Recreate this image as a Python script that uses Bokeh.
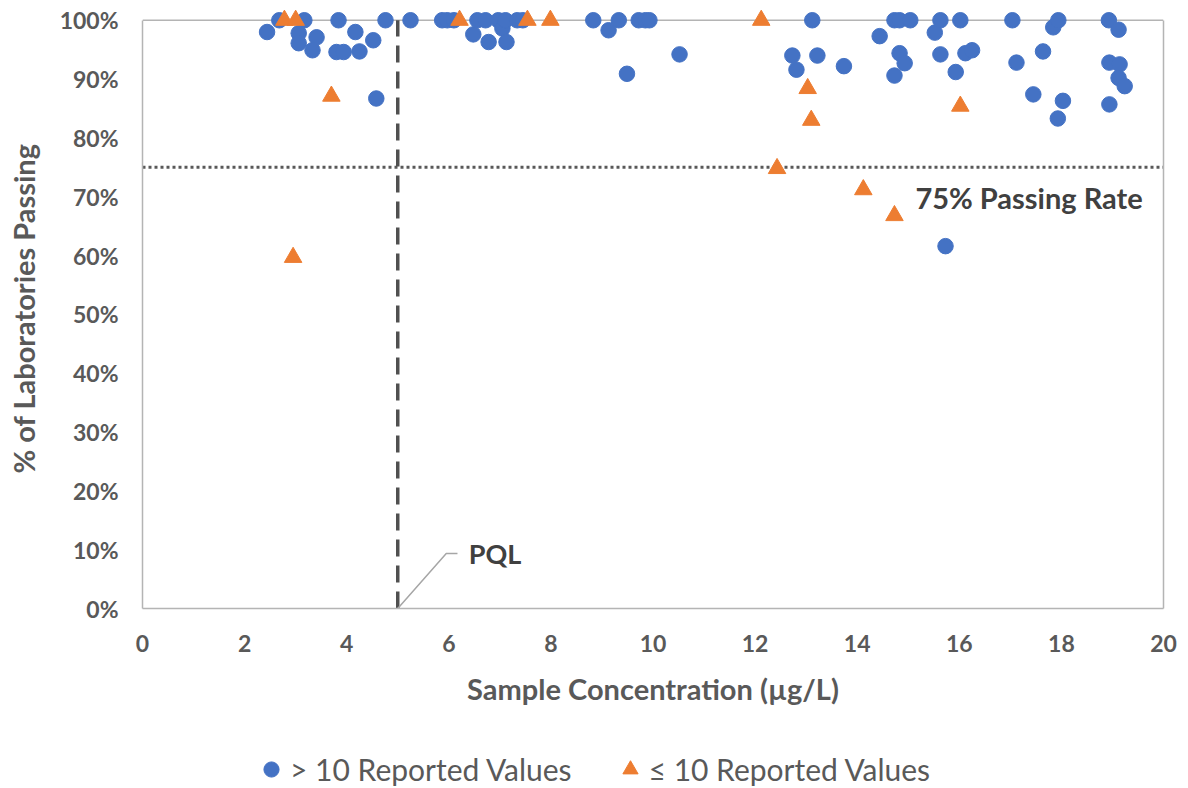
from bokeh.plotting import figure
from bokeh.layouts import column
from bokeh.models import (Range1d, LinearAxis, FixedTicker, PrintfTickFormatter,
                          Span, Label, Legend, LegendItem)
from bokeh.embed import file_html
from bokeh.resources import INLINE

FONT = "Lato"
AXIS_TEXT = "#595959"
NOTE_TEXT = "#404040"
FRAME_GRAY = "#b4b4b4"
BLUE = "#4472C4"
ORANGE = "#ED7D31"

# Samples with more than 10 reported values: concentration (µg/L), % labs passing
conc_many = [2.44, 2.68, 3.17, 3.06, 3.06, 3.41, 3.33, 3.84, 3.80, 3.94,
             4.17, 4.25, 4.52, 4.58, 4.76, 5.25, 5.87, 5.97, 6.10, 6.48,
             6.56, 6.72, 6.78, 6.97, 7.05, 7.11, 7.13, 7.34, 7.45, 8.83,
             9.13, 9.33, 9.49, 9.72, 9.85, 9.93, 10.52, 12.73, 12.81, 13.12,
             13.22, 13.74, 14.44, 14.73, 14.83, 15.04, 14.83, 14.93, 14.73, 15.52,
             15.63, 15.63, 15.73, 15.93, 16.02, 16.12, 16.25, 17.04, 17.12, 17.45,
             17.64, 17.84, 17.93, 17.94, 18.03, 18.93, 18.94, 18.94, 19.12, 19.14,
             19.12, 19.24]
pass_many = [98.0, 100, 100, 97.8, 96.1, 97.1, 94.9, 100, 94.6, 94.6,
             98.0, 94.7, 96.6, 86.7, 100, 100, 100, 100, 100, 97.6,
             100, 100, 96.3, 100, 98.6, 100, 96.3, 100, 100, 100,
             98.3, 100, 90.9, 100, 100, 100, 94.2, 94.0, 91.6, 100,
             94.0, 92.2, 97.3, 100, 100, 100, 94.4, 92.7, 90.6, 97.9,
             100, 94.2, 61.6, 91.2, 100, 94.4, 94.9, 100, 92.8, 87.4,
             94.7, 98.8, 83.3, 100, 86.3, 100, 92.8, 85.7, 98.4, 92.5,
             90.2, 88.8]

# Samples with 10 or fewer reported values
conc_few = [2.78, 3.00, 2.95, 3.70, 6.21, 7.54, 7.99, 12.12, 12.43, 13.03,
            13.10, 14.12, 14.73, 16.02]
pass_few = [100, 100, 59.7, 87.1, 100, 100, 100, 100, 74.8, 88.4,
            83.0, 71.2, 66.8, 85.4]

x_ticks = [0, 2, 4, 6, 8, 10, 12, 14, 16, 18, 20]
y_ticks = [0, 10, 20, 30, 40, 50, 60, 70, 80, 90, 100]
pql = 5
passing_rate = 75

p = figure(width=1188, height=740, output_backend="svg", toolbar_location=None,
           tools="", x_range=Range1d(0, 20), y_range=Range1d(0, 102),
           min_border_left=142, min_border_right=25, min_border_top=8,
           min_border_bottom=132)
p.outline_line_color = None
p.grid.visible = False

# axes
xa = p.xaxis[0]
xa.ticker = FixedTicker(ticks=x_ticks)
xa.axis_label = "Sample Concentration (µg/L)"
ya = p.yaxis[0]
ya.ticker = FixedTicker(ticks=y_ticks)
ya.formatter = PrintfTickFormatter(format="%d%%")
ya.axis_label = "% of Laboratories Passing"
ya.bounds = (0, 100)
for ax in (xa, ya):
    ax.axis_line_color = FRAME_GRAY
    ax.axis_line_width = 1.5
    ax.major_tick_line_color = None
    ax.minor_tick_line_color = None
    ax.major_label_text_font = FONT
    ax.major_label_text_font_style = "bold"
    ax.major_label_text_font_size = "23px"
    ax.major_label_text_color = AXIS_TEXT
    ax.axis_label_text_font = FONT
    ax.axis_label_text_font_style = "bold"
    ax.axis_label_text_font_size = "29px"
    ax.axis_label_text_color = AXIS_TEXT
xa.major_label_standoff = 20
xa.axis_label_standoff = 16
ya.major_label_standoff = 18
ya.axis_label_standoff = 16

# right edge of the plot box
ra = LinearAxis(ticker=FixedTicker(ticks=[]), bounds=(0, 100),
                axis_line_color=FRAME_GRAY, axis_line_width=1.5,
                major_tick_line_color=None, minor_tick_line_color=None,
                major_label_text_font_size="0px")
p.add_layout(ra, "right")
# top edge of the plot box
p.add_layout(Span(location=100, dimension="width", line_color=FRAME_GRAY,
                  line_width=1.5, level="underlay"))

# reference lines
p.line([0, 20], [passing_rate, passing_rate], line_color="#595959",
       line_width=3, line_dash="3 3")
p.line([pql, pql], [0, 100], line_color="#505050", line_width=3.5,
       line_dash="17 9")

# PQL leader line and labels
p.line([pql, 5.95, 6.17], [0, 9.35, 9.35], line_color="#a6a6a6", line_width=1.5)
p.add_layout(Label(x=6.39, y=9.35, text="PQL", text_font=FONT,
                   text_font_style="bold", text_font_size="27px",
                   text_color=NOTE_TEXT, text_baseline="middle"))
p.add_layout(Label(x=15.14, y=69.9, text="75% Passing Rate", text_font=FONT,
                   text_font_style="bold", text_font_size="29px",
                   text_color=NOTE_TEXT, text_baseline="middle"))

p.scatter(conc_many, pass_many, marker="circle", size=15.5,
          fill_color=BLUE, line_color=BLUE)
p.scatter(conc_few, pass_few, marker="triangle", size=17.5,
          fill_color=ORANGE, line_color=ORANGE)

# legend strip underneath the chart; its key renderers sit outside the
# strip's visible range so only the legend entries show
leg = figure(width=1188, height=48, output_backend="svg", toolbar_location=None,
             tools="", x_range=Range1d(0, 20), y_range=Range1d(-300, -200),
             min_border=0)
leg.axis.visible = False
leg.grid.visible = False
leg.outline_line_color = None
k_many = leg.scatter(conc_many, pass_many, marker="circle",
                     fill_color=BLUE, line_color=BLUE)
k_few = leg.scatter(conc_few, pass_few, marker="triangle",
                    fill_color=ORANGE, line_color=ORANGE)
legend = Legend(items=[LegendItem(label="> 10 Reported Values", renderers=[k_many]),
                       LegendItem(label="≤ 10 Reported Values", renderers=[k_few])],
                orientation="horizontal", location=(110, 0),
                glyph_width=38, glyph_height=38, label_standoff=-3, spacing=39,
                padding=0, margin=0, border_line_color=None,
                background_fill_alpha=0, label_text_font=FONT,
                label_text_font_size="30px", label_text_color=AXIS_TEXT)
leg.add_layout(legend, "center")

open("out.html", "w").write(file_html(column(p, leg), INLINE))
